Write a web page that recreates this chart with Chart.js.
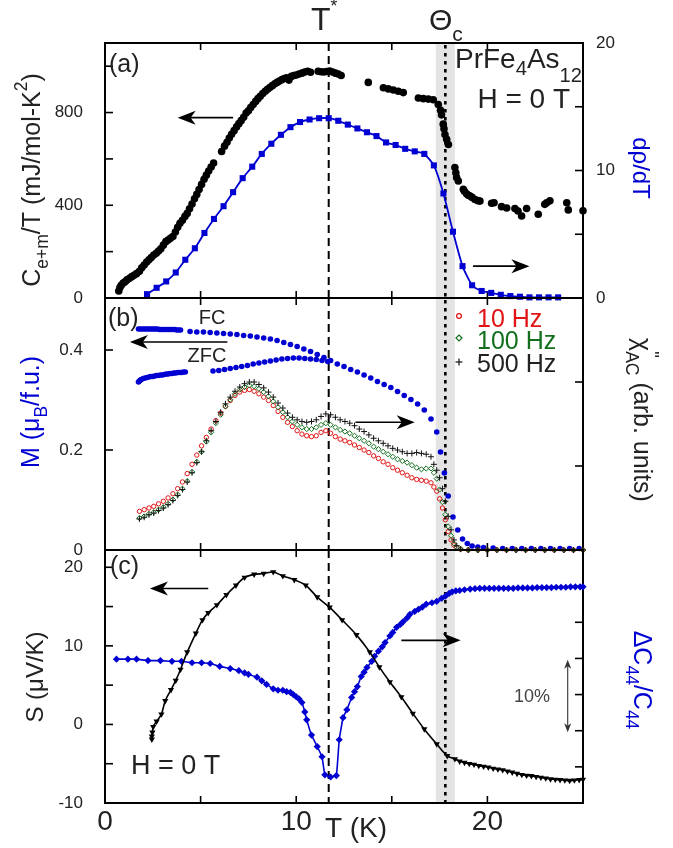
<!DOCTYPE html>
<html>
<head>
<meta charset="utf-8">
<script src="https://cdn.jsdelivr.net/npm/chart.js@4.4.1/dist/chart.umd.min.js"></script>
<style>
  html, body { margin: 0; padding: 0; background: #fff; }
  #wrap { position: relative; width: 673px; height: 848px; overflow: hidden; }
  #wrap canvas { position: absolute; left: 0; }
</style>
</head>
<body>
<div id="wrap">
  <canvas id="chartA" width="673" height="332" style="top:0px"></canvas>
  <canvas id="chartB" width="673" height="320" style="top:264px"></canvas>
  <canvas id="chartC" width="673" height="332" style="top:516px"></canvas>
</div>
<script>
"use strict";

// ---- panel (a): C_e+m/T (left axis) and d(rho)/dT (right axis) ----
const tCp = [0.72,0.78,0.85,0.95,1.05,1.15,1.28,1.40,1.52,1.65,1.80,1.92,2.05,2.18,2.30,2.42,2.55,2.68,2.80,2.92,
  3.05,3.18,3.30,3.42,3.55,3.68,3.80,3.92,4.05,4.18,4.30,4.42,4.55,4.68,4.80,4.92,5.05,5.18,5.30,5.42,
  5.55,5.68,6.10,6.25,6.38,6.50,6.62,6.75,6.88,7.00,7.12,7.25,7.38,7.50,7.62,7.75,7.88,8.00,8.12,8.25,
  8.38,8.50,8.62,8.75,8.88,9.00,9.12,9.25,9.38,9.50,9.62,9.75,9.88,10.00,10.15,10.30,10.45,10.60,10.75,11.15,
  11.30,11.45,11.60,11.75,11.90,12.05,12.20,12.35,13.77,14.56,14.82,15.08,15.34,15.60,16.39,16.65,16.91,17.17,17.43,17.55,
  17.60,17.69,17.73,17.78,17.87,17.96,18.30,18.35,18.39,18.48,18.74,18.80,18.91,19.00,19.09,19.20,19.35,19.50,19.61,20.22,
  20.35,20.74,21.01,21.44,21.60,21.79,22.05,22.66,23.00,23.10,23.27,24.15,24.23,25.00];
const cCp = [30,45,55,65,70,78,85,92,98,105,115,130,142,155,165,175,185,193,203,212,
  228,243,250,258,265,285,305,322,335,352,365,385,405,428,447,468,490,512,530,548,
  565,582,632,655,672,690,706,722,738,752,765,780,798,808,822,835,848,860,870,882,
  892,900,908,916,924,930,936,942,947,950,940,956,960,962,966,970,975,978,974,978,
  976,975,977,979,975,970,966,960,930,907,902,897,892,886,863,860,858,855,835,810,
  790,750,730,705,685,662,563,540,520,505,469,460,450,443,440,434,425,420,418,409,
  411,394,388,386,375,354,386,361,404,411,419,411,380,376];
const tDr = [2.2,2.7,3.2,3.7,4.2,4.7,5.2,5.7,6.2,6.7,7.2,7.7,8.2,8.7,9.2,9.7,10.2,10.7,11.2,11.7,
  12.2,12.7,13.2,13.7,14.2,14.7,15.2,15.7,16.2,16.7,17.2,17.7,18.2,18.7,19.2,19.7,20.2,20.7,21.2,21.7,
  22.2,22.7,23.2,23.7];
const vDr = [0.3,0.8,1.3,2.0,3.0,3.9,5.1,6.2,7.2,8.3,9.4,10.3,11.3,12.1,12.8,13.4,13.8,14.0,14.1,14.1,
  13.9,13.6,13.3,13.0,12.7,12.2,12.0,11.7,11.5,11.3,10.4,8.2,5.2,2.5,1.0,0.55,0.4,0.25,0.15,0.1,
  0.05,0.05,0.05,0.05];

// ---- panel (b): M (FC, ZFC) on left axis, chi''_AC on right axis ----
const tFC = [1.75,1.85,1.95,2.05,2.15,2.25,2.35,2.45,2.55,2.65,2.75,2.85,2.95,3.05,3.15,3.25,3.35,3.45,3.55,3.65,3.75,3.85,3.95,
  4.45,4.80,5.15,5.50,5.85,6.20,6.55,6.90,7.25,7.60,7.95,8.30,8.65,9.00,9.35,9.70,10.05,10.40,10.75,11.10,
  11.45,11.80,12.15,12.50,12.85,13.20,13.55,13.90,14.25,14.60,14.95,15.30,15.65,16.00,16.35,16.70,17.05,17.35,17.55,17.75,
  17.95,18.20,18.45,18.70,18.95,19.20,19.50,19.80,20.30,20.80,21.30,21.80,22.30,22.80,23.30,23.80,24.30,24.80];
const mFC = [0.442,0.442,0.442,0.442,0.442,0.442,0.442,0.442,0.442,0.442,0.442,0.441,0.441,0.441,0.441,0.441,0.441,0.441,0.441,0.441,0.440,0.440,0.440,
  0.437,0.436,0.436,0.435,0.434,0.433,0.432,0.431,0.429,0.428,0.426,0.424,0.422,0.419,0.415,0.411,0.407,0.402,0.397,0.391,
  0.385,0.379,0.372,0.367,0.361,0.356,0.350,0.344,0.337,0.331,0.325,0.317,0.309,0.301,0.292,0.280,0.262,0.236,0.196,0.154,
  0.108,0.066,0.040,0.022,0.013,0.008,0.006,0.005,0.004,0.003,0.003,0.003,0.003,0.003,0.003,0.003,0.003,0.003];
const tZFC = [1.75,1.80,1.85,1.90,2.00,2.10,2.20,2.30,2.40,2.50,2.60,2.70,2.80,2.90,3.00,3.10,3.20,3.30,3.40,3.50,
  3.60,3.70,3.80,3.90,4.00,4.10,4.20,
  5.65,5.95,6.25,6.55,6.85,7.15,7.45,7.75,8.05,8.35,8.65,8.95,9.25,9.55,9.85,10.15,10.45,10.75,11.05,11.35,11.65];
const mZFC = [0.336,0.338,0.340,0.341,0.343,0.344,0.345,0.346,0.347,0.347,0.348,0.349,0.349,0.350,0.350,0.351,0.352,0.352,0.353,0.353,
  0.354,0.354,0.355,0.355,0.355,0.356,0.356,
  0.358,0.359,0.361,0.363,0.365,0.367,0.369,0.372,0.374,0.376,0.378,0.380,0.382,0.383,0.384,0.384,0.383,0.382,0.381,0.379,0.377];
const tChi = [1.80,2.05,2.30,2.55,2.80,3.05,3.30,3.55,3.80,4.05,4.30,4.55,4.80,5.05,5.30,5.55,5.80,6.05,6.30,6.55,
  6.80,7.05,7.30,7.55,7.80,8.05,8.30,8.55,8.80,9.05,9.30,9.55,9.80,10.05,10.30,10.55,10.80,11.05,11.30,11.55,
  11.80,12.05,12.30,12.55,12.80,13.05,13.30,13.55,13.80,14.05,14.30,14.55,14.80,15.05,15.30,15.55,15.80,16.05,16.30,16.55,
  16.80,17.05,17.20,17.35,17.50,17.65,17.80,17.95,18.10,18.25,18.40,18.60,
  19.0,19.5,20.0,20.5,21.0,21.5,22.0,22.5,23.0,23.5,24.0,24.5,25.0];
const chi10 = [0.46,0.48,0.50,0.52,0.55,0.58,0.62,0.67,0.73,0.81,0.91,1.02,1.13,1.24,1.34,1.44,1.54,1.63,1.71,1.78,
  1.84,1.88,1.90,1.91,1.89,1.86,1.82,1.78,1.72,1.65,1.58,1.52,1.47,1.42,1.38,1.36,1.35,1.36,1.40,1.42,
  1.39,1.35,1.32,1.30,1.28,1.25,1.22,1.19,1.16,1.12,1.09,1.05,1.02,0.98,0.95,0.92,0.89,0.86,0.84,0.83,
  0.82,0.80,0.75,0.70,0.61,0.50,0.36,0.22,0.12,0.06,0.03,0.01,
  0,0,0,0,0,0,0,0,0,0,0,0,0];
const chi100 = [0.38,0.40,0.43,0.45,0.48,0.51,0.55,0.60,0.66,0.73,0.82,0.93,1.05,1.17,1.29,1.40,1.51,1.61,1.71,1.79,
  1.86,1.91,1.94,1.96,1.95,1.92,1.88,1.83,1.77,1.70,1.64,1.58,1.53,1.49,1.46,1.44,1.44,1.46,1.49,1.51,
  1.49,1.46,1.43,1.41,1.39,1.36,1.33,1.30,1.27,1.23,1.20,1.17,1.14,1.11,1.08,1.06,1.04,1.01,0.98,0.96,
  0.97,0.97,0.92,0.85,0.72,0.57,0.42,0.28,0.17,0.08,0.03,0.01,
  0,0,0,0,0,0,0,0,0,0,0,0,0];
const chi500 = [0.37,0.39,0.42,0.44,0.47,0.50,0.54,0.59,0.65,0.72,0.81,0.92,1.04,1.17,1.30,1.42,1.53,1.64,1.74,1.82,
  1.89,1.94,1.98,2.00,2.00,1.97,1.93,1.88,1.82,1.75,1.69,1.63,1.58,1.55,1.53,1.52,1.53,1.55,1.59,1.62,
  1.61,1.58,1.55,1.53,1.51,1.48,1.44,1.41,1.37,1.33,1.30,1.27,1.24,1.21,1.19,1.17,1.15,1.15,1.16,1.15,
  1.14,1.11,1.02,0.95,0.86,0.73,0.58,0.40,0.24,0.12,0.05,0.01,
  0,0,0,0,0,0,0,0,0,0,0,0,0];

// ---- panel (c): thermopower S (left) and dC44/C44 (right, % units) ----
const tS = [2.45,2.45,2.48,2.52,2.70,2.95,3.15,3.45,3.70,3.95,4.30,4.75,5.10,5.40,5.85,6.35,6.85,7.30,7.80,8.30,
  8.80,9.30,9.90,10.50,11.10,11.75,12.40,13.15,13.85,14.35,14.90,15.50,16.10,16.70,17.35,17.90,18.30,18.55,18.80,19.05,
  19.30,19.55,19.80,20.05,20.30,20.55,20.80,21.05,21.30,21.55,21.80,22.05,22.30,22.55,22.80,23.05,23.30,23.55,23.80,24.05,
  24.30,24.55,24.80,25.00];
const sS = [-1.9,-1.5,-1.0,-0.3,0.4,1.3,3.0,4.4,5.6,7.0,9.2,11.6,13.3,14.2,15.2,16.5,17.7,18.7,19.1,19.2,
  19.4,18.9,18.4,17.7,16.2,14.9,13.3,11.4,9.2,7.3,5.4,3.5,1.4,-0.6,-2.5,-4.0,-4.4,-4.7,-4.85,-5.0,
  -5.1,-5.25,-5.35,-5.45,-5.6,-5.7,-5.8,-5.95,-6.1,-6.25,-6.4,-6.5,-6.55,-6.65,-6.75,-6.85,-6.95,-7.0,-7.05,-7.1,
  -7.15,-7.1,-7.05,-7.0];
const tC44 = [0.60,1.20,1.65,2.25,2.90,3.50,4.00,4.55,5.05,5.50,6.00,6.55,7.00,7.30,7.50,7.95,8.20,8.45,8.80,9.05,
  9.30,9.50,9.70,9.85,10.00,10.15,10.30,10.45,10.55,10.80,11.10,11.35,11.50,11.80,12.10,12.25,12.45,12.65,12.90,13.05,
  13.20,13.40,13.55,13.70,13.95,14.10,14.30,14.50,14.65,14.90,15.05,15.25,15.45,15.60,15.80,15.95,16.20,16.40,16.60,16.80,
  17.10,17.35,17.60,17.80,18.00,18.15,18.35,18.55,18.80,19.10,19.35,19.60,19.85,20.10,20.35,20.60,20.85,21.10,21.35,21.60,
  21.85,22.10,22.35,22.60,22.85,23.10,23.35,23.60,23.85,24.10,24.35,24.60,24.85,25.00];
const dC44 = [19.9,19.9,19.9,19.7,19.7,19.6,19.6,19.4,19.4,19.3,18.9,18.6,18.3,18.0,17.8,17.4,16.9,16.4,15.8,15.6,
  15.6,15.4,15.3,15.0,14.7,14.4,13.9,12.6,11.5,9.4,7.8,6.4,3.9,3.6,3.8,8.75,11.8,12.9,14.6,15.4,
  16.1,17.5,18.1,18.75,19.6,20.3,21.0,21.6,22.2,23.1,23.6,24.3,24.7,25.1,25.6,26.1,26.5,26.8,27.1,27.5,
  27.7,27.9,28.3,28.6,29.0,29.2,29.35,29.4,29.5,29.6,29.65,29.7,29.7,29.7,29.7,29.7,29.7,29.7,29.7,29.75,
  29.75,29.75,29.75,29.8,29.8,29.8,29.8,29.85,29.85,29.85,29.9,29.9,29.9,29.9];

// marker temperatures (K)
const T_STAR = 11.7;
const THETA_C = 17.8;
const BAND_T = [17.3, 18.3];

const FONT = "'Liberation Sans', Arial, Helvetica, sans-serif";
const INK = '#222';
const BLUE = 'rgb(0,0,210)';
const RED = '#e01414';
const GREEN = '#12701c';
const OVERLAP = 34;   // canvases overlap so axis label padding fits

function pts(xs, ys) {
    return xs.map((x, i) => ({ x: x, y: ys[i] }));
}

function line(ctx, x1, y1, x2, y2) {
    ctx.beginPath();
    ctx.moveTo(x1, y1);
    ctx.lineTo(x2, y2);
    ctx.stroke();
}

// text with sub/superscripts; parts = [{t, s: size factor, dy: shift factor, noAdv}]
function rich(ctx, parts, x, y, size, color, align, rot) {
    ctx.save();
    ctx.translate(x, y);
    if (rot) ctx.rotate(rot);
    ctx.fillStyle = color;
    ctx.textBaseline = 'middle';
    ctx.textAlign = 'left';
    let w = 0;
    const m = parts.map(p => {
        const fs = size * (p.s || 1);
        ctx.font = fs + 'px ' + FONT;
        const pw = ctx.measureText(p.t).width;
        if (!p.noAdv) w += pw;
        return { fs: fs, pw: pw };
    });
    let cx = align === 'left' ? 0 : align === 'right' ? -w : -w / 2;
    parts.forEach((p, i) => {
        ctx.font = m[i].fs + 'px ' + FONT;
        ctx.fillText(p.t, cx, size * (p.dy || 0));
        if (!p.noAdv) cx += m[i].pw;
    });
    ctx.restore();
}

function head(ctx, x, y, ang, len, hw) {
    ctx.save();
    ctx.translate(x, y);
    ctx.rotate(ang);
    ctx.beginPath();
    ctx.moveTo(0, 0);
    ctx.lineTo(-len, -hw);
    ctx.lineTo(-len * 0.72, 0);
    ctx.lineTo(-len, hw);
    ctx.closePath();
    ctx.fill();
    ctx.restore();
}

// arrow in data space of (xScale, yScale)
function arrow(ctx, xs, ys, x1, y1, x2, y2, o) {
    o = o || {};
    const len = o.len || 18, hw = o.hw || 7;
    const p1 = [xs.getPixelForValue(x1), ys.getPixelForValue(y1)];
    const p2 = [xs.getPixelForValue(x2), ys.getPixelForValue(y2)];
    const ang = Math.atan2(p2[1] - p1[1], p2[0] - p1[0]);
    ctx.strokeStyle = ctx.fillStyle = o.color || '#000';
    ctx.lineWidth = o.lw || 1.6;
    const s = o.both ? len * 0.7 : 0;
    line(ctx, p1[0] + Math.cos(ang) * s, p1[1] + Math.sin(ang) * s,
        p2[0] - Math.cos(ang) * len * 0.7, p2[1] - Math.sin(ang) * len * 0.7);
    head(ctx, p2[0], p2[1], ang, len, hw);
    if (o.both) head(ctx, p1[0], p1[1], ang + Math.PI, len, hw);
}

// shaded band, T* and Theta_c lines, frame and inward ticks
const framePlugin = {
    id: 'frame',
    beforeDatasetsDraw(chart) {
        const { ctx, chartArea: a, scales } = chart;
        const x = scales.x;
        ctx.save();
        const b0 = x.getPixelForValue(BAND_T[0]);
        const b1 = x.getPixelForValue(BAND_T[1]);
        ctx.fillStyle = '#e4e4e4';
        ctx.fillRect(b0, a.top, b1 - b0, a.height);

        ctx.strokeStyle = '#000';
        ctx.lineWidth = 2;
        ctx.setLineDash([8, 5]);
        const ts = x.getPixelForValue(T_STAR);
        line(ctx, ts, a.top, ts, a.bottom);
        ctx.lineWidth = 2.6;
        ctx.setLineDash([3.5, 4.5]);
        const tc = x.getPixelForValue(THETA_C);
        line(ctx, tc, a.top + 2, tc, a.bottom);
        ctx.setLineDash([]);

        ctx.lineWidth = 1.6;
        x.ticks.forEach(t => {
            const p = x.getPixelForValue(t.value);
            line(ctx, p, a.bottom, p, a.bottom - 7);
            line(ctx, p, a.top, p, a.top + 7);
        });
        const yl = scales.yL, yr = scales.yR;
        yl.ticks.forEach(t => {
            const p = yl.getPixelForValue(t.value);
            line(ctx, a.left, p, a.left + 8, p);
        });
        yr.ticks.forEach(t => {
            const p = yr.getPixelForValue(t.value);
            line(ctx, a.right, p, a.right - 8, p);
        });
        ctx.lineWidth = 2;
        ctx.strokeRect(a.left, a.top, a.width, a.height);
        ctx.restore();
    }
};

function textLayer(draw) {
    return {
        id: 'texts',
        afterDatasetsDraw(chart) {
            const ctx = chart.ctx;
            ctx.save();
            draw(ctx, chart);
            ctx.restore();
        }
    };
}

function fmt(v) {
    return String(+v.toFixed(2));
}

function yAxis(pos, min, max, step, labels) {
    return {
        type: 'linear',
        position: pos,
        min: min,
        max: max,
        grid: { display: false, drawTicks: false },
        border: { display: false },
        ticks: {
            stepSize: step,
            includeBounds: false,
            autoSkip: false,
            padding: pos === 'left' ? 22 : 13,
            color: INK,
            font: { family: FONT, size: 17 },
            callback: v => labels.some(l => Math.abs(l - v) < 1e-6) ? fmt(v) : ''
        },
        afterFit: s => { s.width = pos === 'left' ? 105 : 90; }
    };
}

function xAxis(showLabels) {
    return {
        type: 'linear',
        min: 0,
        max: 25,
        grid: { display: false, drawTicks: false },
        border: { display: false },
        ticks: {
            display: showLabels,
            stepSize: 5,
            autoSkip: false,
            maxRotation: 0,
            padding: 2,
            color: INK,
            font: { family: FONT, size: 28 },
            callback: v => (v % 10 === 0 ? String(v) : '')
        },
        afterFit: s => { s.height = showLabels ? 45 : 0; }
    };
}

function options(top, bottom, x, yL, yR) {
    return {
        responsive: false,
        animation: false,
        events: [],
        layout: { padding: { left: 0, right: 0, top: top, bottom: bottom } },
        plugins: { legend: { display: false }, tooltip: { enabled: false } },
        scales: { x: x, yL: yL, yR: yR }
    };
}

// ---------------- panel (a) ----------------
new Chart(document.getElementById('chartA'), {
    type: 'scatter',
    data: {
        datasets: [
            {
                data: pts(tCp, cCp), yAxisID: 'yL', clip: false,
                pointRadius: 3.8, pointBackgroundColor: '#000', pointBorderColor: '#000', pointBorderWidth: 0
            },
            {
                data: pts(tDr, vDr), yAxisID: 'yR', clip: false, showLine: true, tension: 0.2,
                borderColor: BLUE, borderWidth: 1.8,
                pointStyle: 'rect', pointRadius: 4.3, pointBackgroundColor: BLUE, pointBorderColor: BLUE, pointBorderWidth: 0
            }
        ]
    },
    options: options(43, OVERLAP, xAxis(false), yAxis('left', 0, 1100, 200, [0, 400, 800]), yAxis('right', 0, 20, 5, [0, 10, 20])),
    plugins: [framePlugin, textLayer((ctx, ch) => {
        const X = ch.scales.x, L = ch.scales.yL, R = ch.scales.yR;
        rich(ctx, [{ t: 'T' }, { t: '*', s: 0.55, dy: -0.42 }], 311, 21, 32, INK, 'left');
        rich(ctx, [{ t: 'Θ' }, { t: 'c', s: 0.7, dy: 0.45 }], 429, 22, 30, INK, 'left');
        rich(ctx, [{ t: '(a)' }], 109, 65, 25, INK, 'left');
        rich(ctx, [{ t: 'PrFe' }, { t: '4', s: 0.72, dy: 0.35 }, { t: 'As' }, { t: '12', s: 0.72, dy: 0.6 }], 455, 60, 28, INK, 'left');
        rich(ctx, [{ t: 'H = 0 T' }], 570, 100, 28, INK, 'right');
        arrow(ctx, X, L, 6.7, 778, 3.8, 778);
        arrow(ctx, X, R, 19.25, 2.5, 22.2, 2.5);
        rich(ctx, [{ t: 'C' }, { t: 'e+m', s: 0.7, dy: 0.4 }, { t: '/T (mJ/mol-K' }, { t: '2', s: 0.7, dy: -0.42 }, { t: ')' }],
            33, 180, 25, INK, 'center', -Math.PI / 2);
        rich(ctx, [{ t: 'dρ/dT' }], 640, 168, 24, BLUE, 'center', Math.PI / 2);
    })]
});

// ---------------- panel (b) ----------------
new Chart(document.getElementById('chartB'), {
    type: 'scatter',
    data: {
        datasets: [
            {
                data: pts(tChi, chi500), yAxisID: 'yR', clip: false,
                pointStyle: 'cross', pointRadius: 3, pointBorderColor: '#111', pointBorderWidth: 1
            },
            {
                data: pts(tChi, chi100), yAxisID: 'yR', clip: false,
                pointStyle: 'rectRot', pointRadius: 2.6, pointBorderColor: GREEN, pointBackgroundColor: 'rgba(0,0,0,0)', pointBorderWidth: 1
            },
            {
                data: pts(tChi, chi10), yAxisID: 'yR', clip: false,
                pointStyle: 'circle', pointRadius: 2.2, pointBorderColor: RED, pointBackgroundColor: 'rgba(0,0,0,0)', pointBorderWidth: 1
            },
            {
                data: pts(tFC, mFC), yAxisID: 'yL', clip: false,
                pointRadius: 2.8, pointBackgroundColor: BLUE, pointBorderColor: BLUE, pointBorderWidth: 0
            },
            {
                data: pts(tZFC, mZFC), yAxisID: 'yL', clip: false,
                pointRadius: 2.8, pointBackgroundColor: BLUE, pointBorderColor: BLUE, pointBorderWidth: 0
            }
        ]
    },
    options: options(OVERLAP, OVERLAP, xAxis(false), yAxis('left', 0, 0.504, 0.2, [0, 0.2, 0.4]), yAxis('right', 0, 3, 1, [])),
    plugins: [framePlugin, textLayer((ctx, ch) => {
        const X = ch.scales.x, L = ch.scales.yL, R = ch.scales.yR;
        const off = 298 - OVERLAP;
        rich(ctx, [{ t: '(b)' }], 108, 319 - off, 25, INK, 'left');
        rich(ctx, [{ t: 'FC' }], 212, 318 - off, 20, INK, 'center');
        rich(ctx, [{ t: 'ZFC' }], 207, 356 - off, 20, INK, 'center');
        arrow(ctx, X, L, 6.4, 0.416, 1.3, 0.416);
        arrow(ctx, X, R, 13.1, 1.52, 16.2, 1.52);

        // legend
        const lx = 459;
        ctx.lineWidth = 1.2;
        ctx.strokeStyle = RED;
        ctx.beginPath(); ctx.arc(lx, 316 - off, 2.4, 0, Math.PI * 2); ctx.stroke();
        ctx.strokeStyle = GREEN;
        ctx.beginPath();
        ctx.moveTo(lx, 335 - off); ctx.lineTo(lx + 3, 338 - off); ctx.lineTo(lx, 341 - off); ctx.lineTo(lx - 3, 338 - off);
        ctx.closePath(); ctx.stroke();
        ctx.strokeStyle = '#111';
        line(ctx, lx - 3.5, 362 - off, lx + 3.5, 362 - off);
        line(ctx, lx, 358.5 - off, lx, 365.5 - off);
        rich(ctx, [{ t: '10 Hz' }], 477, 320 - off, 25, RED, 'left');
        rich(ctx, [{ t: '100 Hz' }], 477, 342 - off, 25, GREEN, 'left');
        rich(ctx, [{ t: '500 Hz' }], 477, 365 - off, 25, INK, 'left');

        rich(ctx, [{ t: 'M (μ' }, { t: 'B', s: 0.7, dy: 0.4 }, { t: '/f.u.)' }], 32, 412 - off, 25, BLUE, 'center', -Math.PI / 2);
        rich(ctx, [{ t: 'χ' }, { t: '"', s: 0.75, dy: -0.4, noAdv: true }, { t: 'AC', s: 0.7, dy: 0.42 }, { t: ' (arb. units)' }],
            641, 420 - off, 25, INK, 'center', Math.PI / 2);
    })]
});

// ---------------- panel (c) ----------------
new Chart(document.getElementById('chartC'), {
    type: 'scatter',
    data: {
        datasets: [
            {
                data: pts(tS, sS), yAxisID: 'yL', clip: false, showLine: true, tension: 0.3,
                borderColor: '#000', borderWidth: 1.6,
                pointStyle: 'triangle', pointRotation: 180, pointRadius: 3.6,
                pointBackgroundColor: '#000', pointBorderColor: '#000', pointBorderWidth: 0
            },
            {
                data: pts(tC44, dC44), yAxisID: 'yR', clip: false, showLine: true, tension: 0.1,
                borderColor: BLUE, borderWidth: 1.6,
                pointStyle: 'rectRot', pointRadius: 3.6,
                pointBackgroundColor: BLUE, pointBorderColor: BLUE, pointBorderWidth: 0
            }
        ]
    },
    options: options(OVERLAP, 0, xAxis(true), yAxis('left', -10, 22.2, 5, [-10, 0, 10, 20]), yAxis('right', 0, 35, 5, [])),
    plugins: [framePlugin, textLayer((ctx, ch) => {
        const X = ch.scales.x, L = ch.scales.yL, R = ch.scales.yR;
        const off = 550 - OVERLAP;
        rich(ctx, [{ t: '(c)' }], 110, 567 - off, 25, INK, 'left');
        rich(ctx, [{ t: 'H = 0 T' }], 131, 767 - off, 27, INK, 'left');
        rich(ctx, [{ t: '10%' }], 532, 697 - off, 18, '#444', 'center');
        arrow(ctx, X, L, 5.4, 17.3, 2.35, 17.3);
        arrow(ctx, X, R, 15.5, 22.5, 18.6, 22.5);
        arrow(ctx, X, R, 24.2, 9.8, 24.2, 19.8, { len: 9, hw: 3.5, lw: 1.1, both: true, color: '#333' });
        rich(ctx, [{ t: 'T (K)' }], 356, 829 - off, 28, INK, 'center');
        rich(ctx, [{ t: 'S (μV/K)' }], 36, 677 - off, 24, INK, 'center', -Math.PI / 2);
        rich(ctx, [{ t: 'ΔC' }, { t: '44', s: 0.7, dy: 0.42 }, { t: '/C' }, { t: '44', s: 0.7, dy: 0.42 }],
            641, 680 - off, 25, BLUE, 'center', Math.PI / 2);
    })]
});
</script>
</body>
</html>
